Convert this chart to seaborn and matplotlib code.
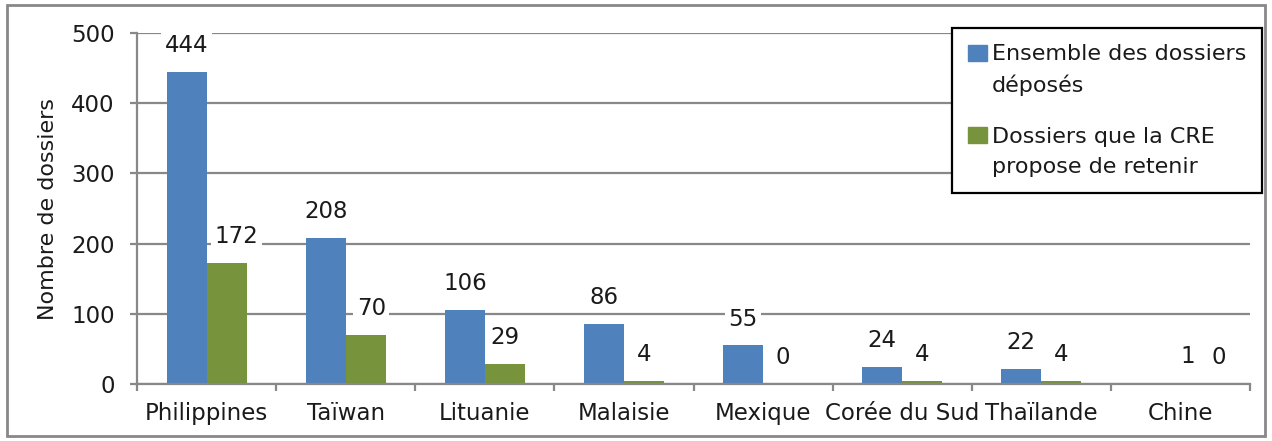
import matplotlib
matplotlib.use("Agg")
import matplotlib.pyplot as plt
import seaborn as sns
import pandas as pd
from matplotlib.patches import Rectangle
from matplotlib.legend_handler import HandlerPatch

pays = ["Philippines", "Taïwan", "Lituanie", "Malaisie", "Mexique",
        "Corée du Sud", "Thaïlande", "Chine"]
deposes = [444, 208, 106, 86, 55, 24, 22, 1]
retenus = [172, 70, 29, 4, 0, 4, 4, 0]
series = ["Ensemble des dossiers\ndéposés", "Dossiers que la CRE\npropose de retenir"]

df = pd.DataFrame({
    "pays": pays * 2,
    "n": deposes + retenus,
    "serie": [series[0]] * len(pays) + [series[1]] * len(pays),
})

blue = "#4F81BD"
green = "#77933C"
grey = "#888888"
txt = "#1a1a1a"

sns.set_style("white")
plt.rcParams["font.family"] = ["DejaVu Sans"]

fig = plt.figure(figsize=(12.72, 4.41), dpi=100)
ax = fig.add_axes([137 / 1272, 1 - 384 / 441, 1113 / 1272, 351 / 441])

sns.barplot(data=df, x="pays", y="n", hue="serie", palette=[blue, green],
            width=0.575, saturation=1, linewidth=0, ax=ax, legend=False)

ax.set_ylim(0, 500)
ax.set_xlim(-0.5, len(pays) - 0.5)
ax.set_yticks(range(0, 501, 100))
ax.yaxis.grid(True, color=grey, linewidth=1.6)
ax.set_axisbelow(True)
for s in ["top", "right"]:
    ax.spines[s].set_visible(False)
for s in ["left", "bottom"]:
    ax.spines[s].set_color(grey)
    ax.spines[s].set_linewidth(1.6)

ax.set_xlabel("")
ax.set_ylabel("Nombre de dossiers", fontsize=16, color=txt)
ax.yaxis.set_label_coords(-0.071, 0.5)

ax.tick_params(axis="y", length=5, width=1.6, color=grey, pad=11,
               labelsize=16.5, labelcolor=txt, left=True)
ax.tick_params(axis="x", which="major", length=0, pad=13,
               labelsize=16.5, labelcolor=txt)
ax.set_xticks([i - 0.5 for i in range(len(pays) + 1)], minor=True)
ax.tick_params(axis="x", which="minor", length=5, width=1.6, color=grey,
               bottom=True)

# petits décalages des étiquettes (en points), comme dans l'original
nudge = {(0, 1): 7, (1, 1): 4, (7, 0): 20, (7, 1): 13}

for si, cont in enumerate(ax.containers):
    for ci, bar in enumerate(cont):
        h = bar.get_height()
        ax.annotate(f"{h:.0f}", (bar.get_x() + bar.get_width() / 2, h),
                    xytext=(nudge.get((ci, si), 0), 19),
                    textcoords="offset points", ha="center", va="center",
                    fontsize=16.5, color=txt,
                    bbox=dict(boxstyle="square,pad=0.15", fc="white", ec="none"))


def top_square(legend, orig_handle, xdescent, ydescent, width, height, fontsize):
    shift = 0.78 * fontsize
    return Rectangle((-xdescent, -ydescent + shift), width, height)


handles = [Rectangle((0, 0), 1, 1, color=c) for c in (blue, green)]
leg = ax.legend(handles, series, loc="upper right",
                bbox_to_anchor=(1262 / 1272, 1 - 28 / 441),
                bbox_transform=fig.transFigure, borderaxespad=0,
                fontsize=16, frameon=True, fancybox=False, framealpha=1,
                edgecolor="black", handlelength=0.85, handleheight=0.7,
                handletextpad=0.2, labelspacing=1.4, borderpad=0.72,
                handler_map={Rectangle: HandlerPatch(patch_func=top_square)})
leg.get_frame().set_linewidth(1.6)
for t in leg.get_texts():
    t.set_color(txt)
    t.set_linespacing(1.6)

fig.patches.append(Rectangle((7 / 1272, 5 / 441), 1258 / 1272, 431 / 441,
                             transform=fig.transFigure, fill=False,
                             edgecolor=grey, linewidth=2))

fig.savefig("out.png", dpi=100)
